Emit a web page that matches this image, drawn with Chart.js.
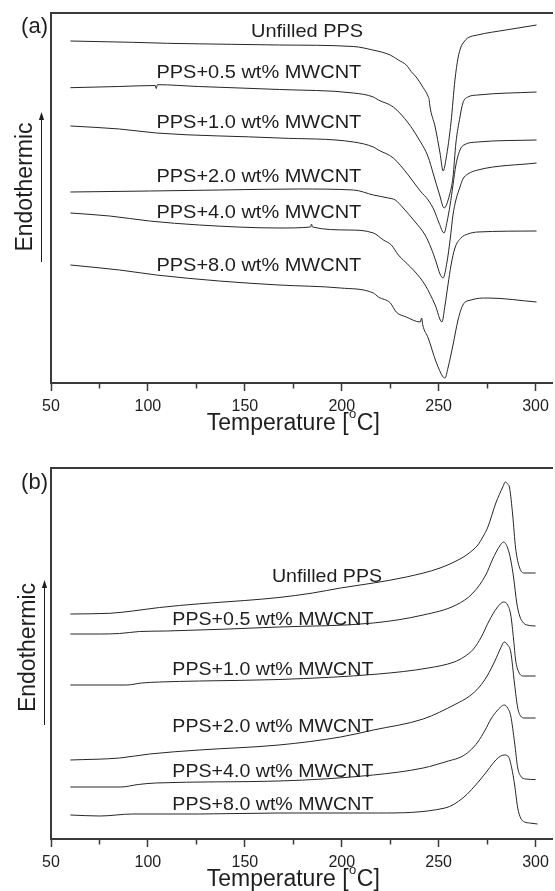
<!DOCTYPE html>
<html>
<head>
<meta charset="utf-8">
<script src="https://cdn.jsdelivr.net/npm/chart.js@4.4.1/dist/chart.umd.min.js"></script>
<style>
  html, body { margin: 0; padding: 0; background: #fff; }
  body { width: 555px; height: 891px; position: relative; overflow: hidden; }
  canvas { position: absolute; left: 0; }
  #panelA { top: 0; }
  #panelB { top: 456px; }
</style>
</head>
<body>
<canvas id="panelA" width="555" height="435"></canvas>
<canvas id="panelB" width="555" height="435"></canvas>
<script>
// curve names, same order in both panels
const curveNames = ['Unfilled PPS', 'PPS+0.5 wt% MWCNT', 'PPS+1.0 wt% MWCNT',
  'PPS+2.0 wt% MWCNT', 'PPS+4.0 wt% MWCNT', 'PPS+8.0 wt% MWCNT'];

const xMajorTicks = [50, 100, 150, 200, 250, 300];
const xMinorTicks = [75, 125, 175, 225, 275];

// (a) cooling scans: [temperature °C, heat flow a.u. (offset)]
const coolUnfilled = [[60,342],[92,340.7],[110,339.7],[143,338.7],[168,338],[206,336.5],[216,333],[225,328],
  [229.2,323],[233.3,318],[235.8,311.5],[238.4,306],[242,295.5],[244.8,285.5],[245.1,283.5],[245.4,278],
  [248.2,256],[250.7,230],[252.3,212],[253.8,224],[256.4,261],[258.4,303],[260,325],[261.5,336],[263,341],
  [265,345],[270,348],[284.6,353],[300.5,358]];
const cool05 = [[60,295.3],[85,296.5],[103.8,297.5],[104.3,294.5],[104.9,298.3],[126,296.5],[168,293.5],
  [206,290],[216.3,286],[218.9,283],[226.6,276],[234.3,260],[239.4,245],[244.6,226],[247.1,210],[250.5,188],
  [252.8,175],[255.6,188],[257.4,206],[258.9,240],[261,266],[262.5,280],[265.1,286],[270.2,288],[300.5,291]];
const cool10 = [[60,257],[85.4,254],[104.4,250],[167.6,245],[206.1,241],[216.3,236],[218.9,233],[226.6,225],
  [234.3,208],[240.5,192],[244.6,183],[247.6,173],[250.2,160],[252.8,150],[254.3,161],[255.9,178],[257.4,198],
  [258.9,218],[261,233],[263,238],[270.2,241],[300.5,243]];
const cool20 = [[60,191],[100.8,192],[136.8,193],[177.8,194],[206.1,193],[216.3,188],[224,185],[227.6,183],
  [231.7,175],[237.9,161],[243,148],[246.1,135],[248.7,121],[250.7,109],[252.3,105],[254.3,121],[255.9,143],
  [257.4,168],[258.9,183],[261,196],[262.5,204],[265.1,209],[270.2,213],[300.5,220]];
const cool40 = [[60,170],[80.3,167],[100.8,162],[126.5,158],[167.6,155],[183.9,156],[184.4,159],[184.9,156],
  [203.5,153],[216.3,150],[221.5,143],[225.6,138],[229.2,128],[232.8,121],[237.9,111],[243,98],[248.2,78],
  [251.7,61],[253.3,78],[254.8,98],[256.4,118],[258.4,135],[261.5,145],[265.1,149],[270.2,151],[300.5,152]];
const cool80 = [[60,118],[85.4,113],[104.4,108],[136.8,102],[167.6,98],[199.4,95],[216.3,90],[218.9,86],
  [225.1,80],[228.1,71],[233.3,66],[240.5,61],[241.2,65],[241.8,58],[244.6,45],[248.7,21],[252.3,6],[253.3,5],
  [254.8,15],[257.4,38],[260,63],[262.5,78],[266.7,83],[275.4,85],[300.5,81]];

// (b) heating scans
const heatUnfilled = [[60,225],[80.3,225.7],[92.1,228],[106,231.5],[126.5,235.2],[150,238.5],[167.6,241.5],
  [185,246],[199.4,251],[216.3,256],[233.3,262],[250.7,271],[261,280],[265.1,285],[270.2,294],[272.8,302],
  [275.4,312],[279.5,336],[283.1,352],[284.4,357],[285.6,355],[286.6,351],[288.2,324],[289.7,291],[291.8,271],
  [294.4,266],[300,266]];
const heat05 = [[60,205],[75.2,205],[85.4,205.5],[95.7,207.5],[109.5,208],[167.6,212],[216.3,216],[242,224],
  [259,234],[267.7,246],[274.3,264],[277.9,280],[281.5,293],[283.6,297],[285.6,291],[287.2,279],[288.7,261],
  [290.3,236],[291.8,223],[293.8,216],[296.9,213.5],[300,213]];
const heat10 = [[60,154],[89,154],[96.7,156],[106,157],[126.5,158],[167.6,159.5],[218.9,165],[244.6,171],
  [258,177],[263,182],[268,190],[272,202],[276,218],[280,231],[283.6,237],[285.6,234],[287.2,224],[288.7,199],
  [289.7,179],[291.3,167],[293.8,163],[300,163]];
const heat20 = [[60,79],[85.4,81],[100.8,85],[126.5,89],[167.6,94],[199.4,102],[216.3,109],[242,120],
  [258.9,135],[266,143],[271,152],[275,163],[279,178],[282,191],[283.8,197],[285.6,194],[287.2,187],[289.1,156],
  [290.8,131],[292.3,123],[294.4,121],[300,121]];
const heat40 = [[60,52],[86,52],[95,54.5],[104,56],[167.6,58],[216.3,64],[242,71],[255,78],[261.5,82],
  [266,88],[270.2,97],[274,109],[277,120],[280,128],[282,132],[283.8,134],[285.6,131],[287.2,123],[289.2,96],
  [290.8,71],[292.3,63],[294.9,60],[300,59.5]];
const heat80 = [[60,24],[75.2,23],[92.1,25],[126.5,25],[167.6,26],[218.9,26],[253.3,31],[262.5,41],[271.3,59],
  [275.4,69],[279.5,79],[282,83],[284.1,84],[286.1,82],[287.7,71],[289.2,54],[290.8,31],[292.3,21],[294.4,17],
  [296.9,16],[301,15]];

const FONT = '"Liberation Sans", Arial, Helvetica, sans-serif';
const INK = '#1e1e1e';
const FRAME = '#3a3a3a';
const PLOT_BOTTOM = 383; // wanted bottom of the plot area, canvas px

// text, arrow and axis title drawn on top of the chart
const annotate = {
  id: 'annotate',
  afterDraw(chart, args, o) {
    const { ctx } = chart;
    const xs = chart.scales.x, ys = chart.scales.y;
    ctx.save();
    ctx.fillStyle = INK;
    ctx.strokeStyle = INK;
    ctx.textBaseline = 'alphabetic';

    ctx.font = `22px ${FONT}`;
    ctx.textAlign = 'right';
    ctx.fillText(o.panel, 48, 32.5);

    // curve labels
    ctx.font = `18.5px ${FONT}`;
    ctx.textAlign = 'left';
    o.labels.forEach(([t, v], i) => {
      ctx.save();
      ctx.translate(xs.getPixelForValue(t), ys.getPixelForValue(v));
      ctx.scale(o.stretch, 1);
      ctx.fillText(curveNames[i], 0, 0);
      ctx.restore();
    });

    // Endothermic + arrow
    ctx.save();
    ctx.translate(o.yTitleX, o.yTitleY);
    ctx.rotate(-Math.PI / 2);
    ctx.font = `23px ${FONT}`;
    ctx.textAlign = 'center';
    ctx.fillText('Endothermic', 0, 0);
    ctx.restore();

    ctx.lineWidth = 1;
    ctx.beginPath();
    ctx.moveTo(o.arrowX, o.arrowBottom);
    ctx.lineTo(o.arrowX, o.arrowTip + 6);
    ctx.stroke();
    ctx.beginPath();
    ctx.moveTo(o.arrowX, o.arrowTip);
    ctx.lineTo(o.arrowX - 2.6, o.arrowTip + 8);
    ctx.lineTo(o.arrowX + 2.6, o.arrowTip + 8);
    ctx.closePath();
    ctx.fill();

    // Temperature [°C] with a raised small o
    const big = `23px ${FONT}`, small = `13px ${FONT}`;
    ctx.font = big;
    const w1 = ctx.measureText('Temperature [').width;
    const w3 = ctx.measureText('C]').width;
    ctx.font = small;
    const w2 = ctx.measureText('o').width + 1;
    const x0 = xs.getPixelForValue(175) - (w1 + w2 + w3) / 2;
    const base = ys.bottom + 47;
    ctx.textAlign = 'left';
    ctx.font = big;
    ctx.fillText('Temperature [', x0, base);
    ctx.font = small;
    ctx.fillText('o', x0 + w1 + 0.5, base - 12);
    ctx.font = big;
    ctx.fillText('C]', x0 + w1 + w2, base);
    ctx.restore();
  }
};

function makePanel(id, series, yMax, topPad, ann) {
  const axisFont = { family: FONT, size: 16 };
  const chart = new Chart(document.getElementById(id), {
    type: 'line',
    data: {
      datasets: series.map((d, i) => ({
        label: curveNames[i],
        data: d,
        borderColor: '#262626',
        borderWidth: 1,
        pointRadius: 0,
        fill: false,
        tension: 0.4,
        cubicInterpolationMode: 'monotone'
      }))
    },
    options: {
      responsive: false,
      animation: false,
      devicePixelRatio: 1,
      events: [],
      layout: { padding: { left: 51, top: topPad, right: 0, bottom: 15 } },
      plugins: { legend: { display: false }, tooltip: { enabled: false }, annotate: ann },
      scales: {
        x: {
          type: 'linear', min: 50, max: 308.7,
          afterBuildTicks: s => { s.ticks = [...xMajorTicks, ...xMinorTicks].sort((a, b) => a - b).map(v => ({ value: v })); },
          ticks: {
            autoSkip: false, maxRotation: 0, padding: 6, color: INK, font: axisFont,
            callback: v => xMajorTicks.includes(v) ? String(v) : ''
          },
          grid: {
            drawOnChartArea: false, drawTicks: true, tickLength: 8, tickColor: FRAME, tickWidth: 1.5,
            tickBorderDash: c => (c.tick && !xMajorTicks.includes(c.tick.value)) ? [4.5, 20] : []
          },
          border: { display: true, color: FRAME, width: 2 }
        },
        x2: {
          type: 'linear', position: 'top', min: 50, max: 308.7,
          ticks: { display: false },
          grid: { display: false, drawTicks: false },
          border: { display: true, color: FRAME, width: 2 }
        },
        y: {
          type: 'linear', min: 0, max: yMax,
          ticks: { display: false },
          grid: { drawOnChartArea: false, drawTicks: false },
          border: { display: true, color: FRAME, width: 2 }
        }
      }
    },
    plugins: [annotate]
  });
  // pull the plot bottom onto the reference axis line
  const diff = PLOT_BOTTOM - chart.chartArea.bottom;
  if (Math.abs(diff) > 0.1) {
    chart.options.layout.padding.bottom -= diff;
    chart.update();
  }
  return chart;
}

makePanel('panelA', [coolUnfilled, cool05, cool10, cool20, cool40, cool80], 370, 13, {
  panel: '(a)', stretch: 1.08,
  labels: [[153.2, 346], [104.4, 305], [104.4, 255], [104.4, 201], [104.4, 165], [104.4, 112]],
  yTitleX: 32, yTitleY: 187, arrowX: 41.5, arrowTip: 112, arrowBottom: 262
});
makePanel('panelB', [heatUnfilled, heat05, heat10, heat20, heat40, heat80], 371, 12, {
  panel: '(b)', stretch: 1.06,
  labels: [[164, 257], [112.6, 214], [112.6, 164], [112.6, 107], [112.6, 62], [112.6, 29]],
  yTitleX: 35, yTitleY: 191.5, arrowX: 44.5, arrowTip: 124, arrowBottom: 269
});
</script>
</body>
</html>
